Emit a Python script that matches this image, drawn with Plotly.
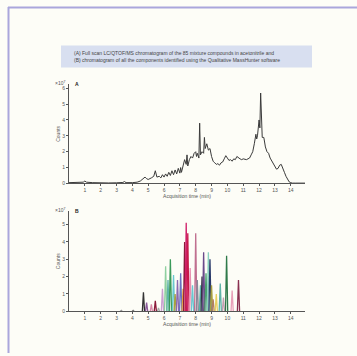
import plotly.graph_objects as go

# ---------------- data ----------------
tic_time = [0, 0.5, 0.9, 1.0, 1.1, 1.5, 2, 2.5, 3, 3.4, 3.5, 3.6, 4, 4.3, 4.5, 4.7, 4.8, 4.9,
            5.0, 5.2, 5.35, 5.45, 5.55, 5.7, 5.8, 5.9, 6.0, 6.1, 6.2, 6.3, 6.4, 6.5, 6.6, 6.7,
            6.8, 6.9, 7.0, 7.05, 7.1, 7.2, 7.3, 7.4, 7.45, 7.5, 7.6, 7.7, 7.8, 7.9, 8.0, 8.05,
            8.1, 8.2, 8.25, 8.3, 8.4, 8.5, 8.55, 8.6, 8.7, 8.8, 8.9, 9.0, 9.1, 9.2, 9.3, 9.4,
            9.5, 9.6, 9.7, 9.8, 9.9, 10.0, 10.1, 10.2, 10.3, 10.4, 10.5, 10.6, 10.7, 10.8, 10.9,
            11.0, 11.2, 11.4, 11.5, 11.6, 11.7, 11.8, 11.85, 11.9, 12.0, 12.05, 12.1, 12.15,
            12.2, 12.3, 12.4, 12.5, 12.6, 12.7, 12.8, 12.9, 13.0, 13.1, 13.2, 13.3, 13.4, 13.5,
            13.6, 13.7, 13.8, 13.9, 14.0, 14.1, 14.3, 14.6, 14.9]
tic_counts = [0.05, 0.05, 0.08, 0.15, 0.08, 0.05, 0.03, 0.03, 0.04, 0.06, 0.12, 0.05, 0.05, 0.08,
              0.15, 0.3, 0.4, 0.3, 0.25, 0.35, 0.45, 0.8, 0.4, 0.45, 0.35, 0.55, 0.4, 0.6, 0.45,
              0.7, 0.5, 0.8, 0.55, 0.85, 0.6, 0.95, 0.65, 1.0, 0.7, 1.1, 1.5, 1.2, 1.8, 1.1, 1.5,
              1.7, 1.6, 1.9, 2.0, 1.7, 1.9, 1.6, 3.8, 1.8, 2.0, 1.9, 2.9, 2.2, 2.5, 2.1, 2.2, 1.7,
              1.4, 1.3, 1.2, 1.25, 1.15, 1.3, 1.35, 1.55, 1.75, 1.6, 1.45, 1.5, 1.4, 1.55, 1.5,
              1.7, 1.6, 1.55, 1.5, 1.55, 1.5, 1.6, 1.8, 2.0, 2.5, 3.1, 2.8, 3.0, 4.0, 3.5, 5.7,
              4.0, 2.9, 2.9, 2.3, 2.0, 1.9, 1.6, 1.4, 1.2, 1.0, 0.9, 0.95, 1.15, 1.2, 1.0, 0.7,
              0.45, 0.25, 0.1, 0.05, 0.02, 0.02, 0.02, 0.02]

peak_rt = [3.3, 4.05, 4.7, 4.9, 5.2, 5.45, 5.65, 5.9, 6.1, 6.25, 6.4, 6.6, 6.7, 6.85, 7.05,
           7.2, 7.3, 7.4, 7.5, 7.65, 7.8, 8.0, 8.1, 8.3, 8.4, 8.5, 8.65, 8.8, 8.9, 9.0, 9.1,
           9.3, 9.55, 9.75, 9.95, 10.3, 10.7]
peak_height = [0.06, 0.06, 1.1, 0.5, 0.4, 0.6, 0.2, 1.3, 2.6, 1.8, 3.0, 2.1, 1.0, 1.8, 2.2,
               1.3, 4.0, 5.1, 4.5, 2.5, 1.5, 4.5, 1.8, 1.5, 2.0, 3.4, 2.2, 3.4, 3.0, 1.5, 0.7,
               1.0, 1.6, 0.8, 3.2, 1.2, 1.8]
peak_color = ["#999999", "#777777", "#333333", "#8a5a9a", "#d88aa8", "#8b1a3a", "#aaaaaa",
              "#c9a0d0", "#8fd0a0", "#5fb3a8", "#3a9a5a", "#6ac8d0", "#a8a040", "#8a6ab0",
              "#6a70c0", "#e0a040", "#8b1a3a", "#d0206a", "#c8184a", "#e890b0", "#6ac8d0",
              "#c07090", "#888899", "#5fb3a8", "#333344", "#6a4a8a", "#4aa070", "#8ad0c0",
              "#2a3a6a", "#a8a040", "#b08060", "#e8d060", "#5fb3a8", "#c0a0b0", "#2f7a4a",
              "#e8a0b8", "#8a3050"]

x_ticks = list(range(1, 15))
top_y_ticks = [0, 1, 2, 3, 4, 5, 6]
bot_y_ticks = [0, 1, 2, 3, 4, 5]

title_lines = ["(A) Full scan LC/QTOF/MS chromatogram of the 85 mixture compounds in acetonitrile and",
               "(B) chromatogram of all the components identified using the Qualitative MassHunter software"]

# ---------------- figure ----------------
W, H = 357, 356
fig = go.Figure()

fig.add_trace(go.Scatter(x=tic_time, y=tic_counts, mode="lines",
                         line=dict(color="#3a3a3a", width=1), xaxis="x", yaxis="y",
                         showlegend=False, hoverinfo="skip"))

hw = 0.07
for rt, h, c in zip(peak_rt, peak_height, peak_color):
    fig.add_trace(go.Scatter(x=[rt - hw, rt, rt + hw], y=[0, h, 0], mode="lines",
                             line=dict(color=c, width=1.3), xaxis="x2", yaxis="y2",
                             showlegend=False, hoverinfo="skip"))

def px(v):
    return v / W

def py(v):
    return 1 - v / H

axfont = dict(family="Liberation Sans", size=5, color="#555555")
xdom = [px(69), px(305)]
common_x = dict(range=[0, 14.9], tickvals=x_ticks, ticks="outside", ticklen=2, tickwidth=0.8,
                tickcolor="#555", showline=True, linecolor="#555", linewidth=1,
                showgrid=False, zeroline=False, tickfont=axfont, domain=xdom)
common_y = dict(ticks="outside", ticklen=2, tickwidth=0.8, tickcolor="#555", showline=True,
                linecolor="#555", linewidth=1, showgrid=False, zeroline=False, tickfont=axfont)

fig.update_layout(
    width=W, height=H, margin=dict(l=0, r=0, t=0, b=0),
    paper_bgcolor="#fdfdf7", plot_bgcolor="#fdfdf7",
    xaxis=dict(**common_x, anchor="y",
               title=dict(text="Acquisition time (min)", font=axfont, standoff=1)),
    yaxis=dict(**common_y, range=[0, 6.25], tickvals=top_y_ticks, anchor="x",
               domain=[py(185), py(85)],
               title=dict(text="Counts", font=axfont, standoff=1)),
    xaxis2=dict(**common_x, anchor="y2",
                title=dict(text="Acquisition time (min)", font=axfont, standoff=1)),
    yaxis2=dict(**common_y, range=[0, 5.77], tickvals=bot_y_ticks, anchor="x2",
                domain=[py(314), py(213)],
                title=dict(text="Counts", font=axfont, standoff=1)),
)

shapes = [
    dict(type="line", xref="paper", yref="paper", x0=px(8), x1=1, y0=py(7.5), y1=py(7.5),
         line=dict(color="#aaa6dc", width=2)),
    dict(type="line", xref="paper", yref="paper", x0=px(8.5), x1=px(8.5), y0=py(7), y1=0,
         line=dict(color="#aaa6dc", width=2)),
    dict(type="rect", xref="paper", yref="paper", x0=px(61), x1=px(312), y0=py(68), y1=py(46),
         fillcolor="#d8dff0", line=dict(width=0), layer="below"),
]
fig.update_layout(shapes=shapes)

tfont = dict(family="Liberation Sans", size=5, color="#444444")
for i, t in enumerate(title_lines):
    fig.add_annotation(text=t, xref="paper", yref="paper", x=px(72), y=py(53 + 8 * i),
                       xanchor="left", yanchor="middle", showarrow=False, font=tfont)

for ytop, lab in [(84, "A"), (212, "B")]:
    fig.add_annotation(text="×10<sup>7</sup>", xref="paper", yref="paper", x=px(67),
                       y=py(ytop), xanchor="right", yanchor="middle", showarrow=False,
                       font=dict(family="Liberation Sans", size=5, color="#555"))
    fig.add_annotation(text="<b>" + lab + "</b>", xref="paper", yref="paper", x=px(73),
                       y=py(ytop + 1), xanchor="left", yanchor="middle", showarrow=False,
                       font=dict(family="Liberation Sans", size=5, color="#222"))

fig.write_html("out.html", config={"displayModeBar": False},
               post_script="document.body.style.margin='0';document.body.style.overflow='hidden';")
